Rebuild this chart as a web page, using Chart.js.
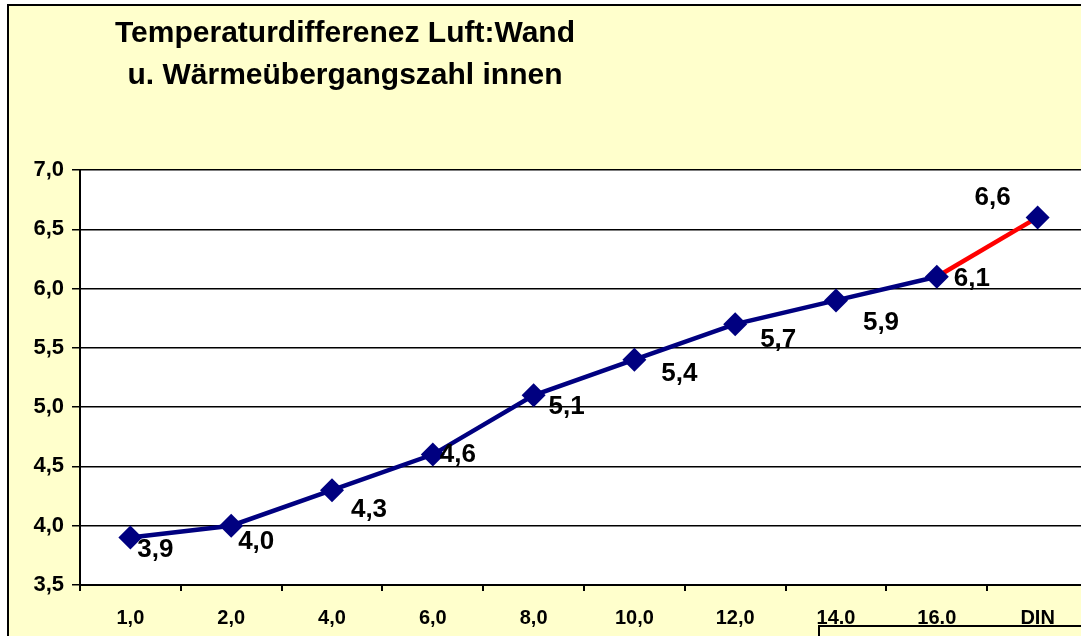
<!DOCTYPE html>
<html>
<head>
<meta charset="utf-8">
<script src="https://cdn.jsdelivr.net/npm/chart.js@4"></script>
<style>
  html, body { margin: 0; padding: 0; overflow: hidden; background: #fff; }
  #wrap { width: 1100px; height: 636px; }
</style>
</head>
<body>
<div id="wrap"><canvas id="myChart" width="1100" height="636"></canvas></div>
<script>
const ctx = document.getElementById('myChart').getContext('2d');

// Data
const categories = ['1,0', '2,0', '4,0', '6,0', '8,0', '10,0', '12,0', '14.0', '16.0', 'DIN'];
const values = [3.9, 4.0, 4.3, 4.6, 5.1, 5.4, 5.7, 5.9, 6.1, 6.6];
const yTicks = [3.5, 4.0, 4.5, 5.0, 5.5, 6.0, 6.5, 7.0];
const titleLines = ['Temperaturdifferenez Luft:Wand', 'u. Wärmeübergangszahl innen'];

// label offsets (px) relative to each point
const labelDx = [25, 25, 37, 25, 33, 45, 43, 45, 35, -45];
const labelDy = [12, 16, 20, 0, 12, 14, 16, 22, 2, -20];

const FONT = 'Arial, "Liberation Sans", sans-serif';
Chart.defaults.font.family = FONT;
Chart.defaults.color = '#000';

const frame = {
    id: 'frame',
    beforeDraw(chart) {
        const c = chart.ctx, a = chart.chartArea;
        c.save();
        c.fillStyle = '#ffffcc';
        c.fillRect(8, 5, chart.width, chart.height);
        c.strokeStyle = '#000';
        c.lineWidth = 2;
        c.strokeRect(8, 5, chart.width + 10, chart.height + 10);
        c.fillStyle = '#fff';
        c.fillRect(a.left, a.top, a.right - a.left, a.bottom - a.top);
        c.restore();
    },
    afterDraw(chart) {
        const c = chart.ctx;
        c.save();
        // title
        c.fillStyle = '#000';
        c.font = 'bold 30px ' + FONT;
        c.textAlign = 'center';
        c.textBaseline = 'middle';
        c.fillText(titleLines[0], 345, 34);
        c.fillText(titleLines[1], 345, 76);
        // value labels
        const meta = chart.getDatasetMeta(0);
        c.font = 'bold 26px ' + FONT;
        meta.data.forEach((pt, i) => {
            c.fillText(values[i].toFixed(1).replace('.', ','), pt.x + labelDx[i], pt.y + labelDy[i]);
        });
        // empty legend box, cut off at the bottom
        c.strokeStyle = '#000';
        c.lineWidth = 2;
        c.strokeRect(819, 626, 400, 40);
        c.restore();
    }
};

const myChart = new Chart(ctx, {
    type: 'line',
    data: {
        labels: categories,
        datasets: [{
            data: values,
            borderColor: '#000080',
            borderWidth: 4.5,
            pointStyle: 'rectRot',
            pointRadius: 12,
            pointHoverRadius: 12,
            pointBackgroundColor: '#000080',
            pointBorderColor: '#000080',
            pointBorderWidth: 0,
            tension: 0,
            segment: {
                borderColor: s => s.p1DataIndex === values.length - 1 ? '#ff0000' : '#000080'
            }
        }]
    },
    plugins: [frame],
    options: {
        responsive: false,
        animation: false,
        events: [],
        layout: { padding: { top: 170, right: 12, left: 0, bottom: 0 } },
        plugins: {
            legend: { display: false },
            tooltip: { enabled: false }
        },
        scales: {
            x: {
                offset: true,
                border: { color: '#000', width: 2 },
                grid: { offset: true, drawOnChartArea: false, drawTicks: true, tickLength: 6, color: '#000', lineWidth: 2 },
                ticks: { font: { size: 20, weight: 'bold' }, padding: 15, maxRotation: 0, autoSkip: false },
                afterFit: s => { s.height = 51; }
            },
            y: {
                min: 3.5,
                max: 7.0,
                afterBuildTicks: s => { s.ticks = yTicks.map(v => ({ value: v })); },
                border: { color: '#000', width: 2 },
                grid: { color: '#000', lineWidth: 1.5, tickLength: 8 },
                ticks: {
                    font: { size: 22, weight: 'bold' },
                    padding: 8,
                    callback: v => Number(v).toFixed(1).replace('.', ',')
                },
                afterFit: s => { s.width = 80; }
            }
        }
    }
});
</script>
</body>
</html>
